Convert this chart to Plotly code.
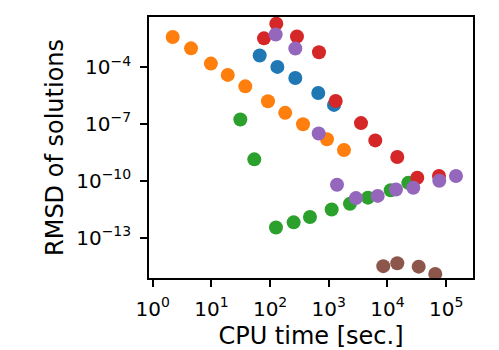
import plotly.graph_objects as go

# CPU time [sec.] and RMSD per series
blue_x = [66.5, 133, 269, 662, 1227]
blue_y = [4.0e-4, 1.0e-4, 2.6e-5, 4.2e-6, 1.0e-6]

orange_x = [2.19, 4.5, 9.8, 19, 37.8, 92, 181, 364, 931, 1815]
orange_y = [3.8e-3, 9.5e-4, 1.5e-4, 3.8e-5, 9.5e-6, 1.55e-6, 3.8e-7, 9.5e-8, 1.55e-8, 4.2e-9]

green_x = [31.1, 53.8, 126, 252, 478, 1120, 2297, 4652, 11340, 22600]
green_y = [1.7e-7, 1.35e-9, 3.5e-13, 6.5e-13, 1.23e-12, 3.1e-12, 6.2e-12, 1.3e-11, 3.2e-11, 7.8e-11]

red_x = [78.7, 127.6, 287, 681, 1312, 3538, 6196, 14690, 32200, 75400]
red_y = [3.2e-3, 1.9e-2, 4.0e-3, 5.9e-4, 1.6e-6, 1.1e-7, 1.35e-8, 1.8e-9, 1.45e-10, 1.8e-10]

purple_x = [124.5, 269, 673, 1380, 2905, 6808, 13960, 27540, 76300, 146900]
purple_y = [5.1e-3, 9.3e-4, 3.1e-8, 6.2e-11, 1.23e-11, 1.6e-11, 3.5e-11, 4.3e-11, 1.0e-10, 1.8e-10]

brown_x = [8480, 14690, 34000, 65200]
brown_y = [3.2e-15, 4.5e-15, 3.0e-15, 1.23e-15]

series = [
    (blue_x, blue_y, '#1f77b4'),
    (orange_x, orange_y, '#ff7f0e'),
    (green_x, green_y, '#2ca02c'),
    (red_x, red_y, '#d62728'),
    (purple_x, purple_y, '#9467bd'),
    (brown_x, brown_y, '#8c564b'),
]

x_ticks = [1, 10, 100, 1000, 1e4, 1e5]
x_ticktext = ['10<sup>%d</sup>' % i for i in range(6)]
y_ticks = [1e-4, 1e-7, 1e-10, 1e-13]
y_ticktext = ['10<sup>\u2212%d</sup>' % i for i in (4, 7, 10, 13)]

fig = go.Figure()
for xs, ys, col in series:
    fig.add_trace(go.Scatter(x=xs, y=ys, mode='markers',
                             marker=dict(size=14, color=col, line=dict(width=0)),
                             showlegend=False, cliponaxis=True))

# page body has an 8px margin, so the figure is a bit smaller than the window
fig.update_layout(
    width=491, height=342,
    font=dict(family='DejaVu Sans', size=20, color='black'),
    plot_bgcolor='white', paper_bgcolor='white',
    margin=dict(l=141, r=26, t=9, b=72),
)

fig.update_xaxes(type='log', range=[-0.063, 5.457],
                 tickvals=x_ticks, ticktext=x_ticktext,
                 ticks='outside', ticklen=7, tickwidth=1.6, tickcolor='black',
                 ticklabelstandoff=5, automargin=False,
                 showline=True, linecolor='black', linewidth=1.6, mirror=True,
                 showgrid=False, zeroline=False,
                 title=dict(text='CPU time [sec.]', standoff=9))

fig.update_yaxes(type='log', range=[-15.12, -1.37],
                 tickvals=y_ticks, ticktext=y_ticktext,
                 ticks='outside', ticklen=7, tickwidth=1.6, tickcolor='black',
                 ticklabelstandoff=5, automargin=False,
                 showline=True, linecolor='black', linewidth=1.6, mirror=True,
                 showgrid=False, zeroline=False,
                 title=dict(text='RMSD of solutions', standoff=6))

fig.write_html("out.html")
